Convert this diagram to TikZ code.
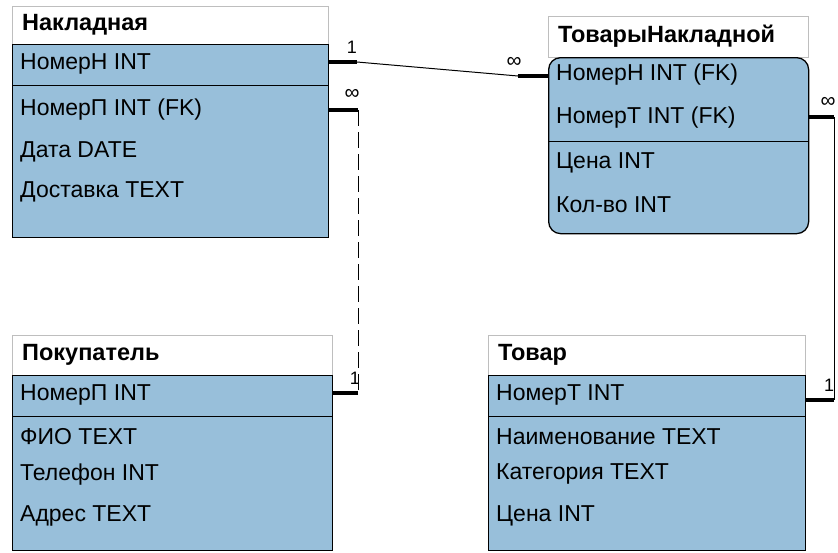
\documentclass[tikz,border=0pt]{standalone}
\usepackage{fontspec}
\setmainfont{Liberation Sans}
\definecolor{tblue}{RGB}{152,191,218}
\definecolor{hgray}{RGB}{190,190,190}
\begin{document}
\begin{tikzpicture}[x=1pt,y=-1pt,
  hdr/.style={draw=hgray, fill=white, line width=1pt, anchor=north west, inner sep=0pt},
  band/.style={draw=black, fill=tblue, line width=1.3pt, anchor=north west, inner sep=0pt},
  plain/.style={anchor=north west, inner sep=0pt},
  row/.style={anchor=west, inner sep=0pt, font=\fontsize{23}{23}\selectfont},
  ttl/.style={anchor=west, inner sep=0pt, font=\bfseries\fontsize{23.5}{23.5}\selectfont},
  stub/.style={line width=4pt},
  link/.style={line width=1pt},
  one/.style={inner sep=0pt, font=\fontsize{18}{18}\selectfont},
  many/.style={inner sep=0pt, font=\fontsize{21}{21}\selectfont}]
\useasboundingbox (0,0) rectangle (838,552);

% ---------- Накладная ----------
\node[hdr, minimum width=316pt, minimum height=38pt] (nakH) at (12,6) {};
\node[band, minimum width=316pt, minimum height=41pt] (nakK) at (12,44) {};
\node[band, minimum width=316pt, minimum height=152pt] (nakB) at (12,85) {};
\node[ttl] (nakT) at (22,25) {Накладная};
\node[row] (nak1) at (20,64) {НомерН INT};
\node[row] (nak2) at (20,110) {НомерП INT (FK)};
\node[row] (nak3) at (20,152) {Дата DATE};
\node[row] (nak4) at (20,192) {Доставка TEXT};

% ---------- ТоварыНакладной ----------
\node[hdr, minimum width=260pt, minimum height=41pt] (tnH) at (548,16) {};
\node[band, rounded corners=12pt, minimum width=260pt, minimum height=176pt] (tnB) at (548,57) {};
\node[plain, minimum width=260pt, minimum height=84pt] (tnK) at (548,57) {};
\draw[line width=1.3pt] (tnK.south west) -- (tnK.south east);
\node[ttl] (tnT) at (558,36) {ТоварыНакладной};
\node[row] (tn1) at (556,75) {НомерН INT (FK)};
\node[row] (tn2) at (556,118) {НомерТ INT (FK)};
\node[row] (tn3) at (556,163) {Цена INT};
\node[row] (tn4) at (556,205) {Кол-во INT};

% ---------- Покупатель ----------
\node[hdr, minimum width=320pt, minimum height=40pt] (pokH) at (12,335) {};
\node[band, minimum width=320pt, minimum height=41pt] (pokK) at (12,375) {};
\node[band, minimum width=320pt, minimum height=134pt] (pokB) at (12,416) {};
\node[ttl] (pokT) at (22,355) {Покупатель};
\node[row] (pok1) at (20,395) {НомерП INT};
\node[row] (pok2) at (20,437) {ФИО TEXT};
\node[row] (pok3) at (20,475) {Телефон INT};
\node[row] (pok4) at (20,516) {Адрес TEXT};

% ---------- Товар ----------
\node[hdr, minimum width=317pt, minimum height=40pt] (tovH) at (488,335) {};
\node[band, minimum width=317pt, minimum height=41pt] (tovK) at (488,375) {};
\node[band, minimum width=317pt, minimum height=134pt] (tovB) at (488,416) {};
\node[ttl] (tovT) at (498,355) {Товар};
\node[row] (tov1) at (496,395) {НомерТ INT};
\node[row] (tov2) at (496,437) {Наименование TEXT};
\node[row] (tov3) at (496,474) {Категория TEXT};
\node[row] (tov4) at (496,516) {Цена INT};

% ---------- connectors ----------
\coordinate (c1a) at (357,62);
\coordinate (c1b) at (518,76);
\draw[stub] (nakK.east |- c1a) -- (c1a);
\draw[link] (c1a) -- (c1b);
\draw[stub] (c1b) -- (tnK.west |- c1b);
\node[one] (l1a) at (352,47) {1};
\node[many] (l1b) at (514,62) {∞};

\coordinate (c2a) at (358,110);
\coordinate (c2b) at (358,393);
\draw[stub] (nakB.east |- c2a) -- (c2a);
\draw[link, dash pattern=on 16pt off 6pt] (c2a) -- (c2b);
\draw[stub] (c2b) -- (pokK.east |- c2b);
\node[many] (l2a) at (352,94) {∞};
\node[one] (l2b) at (355,378) {1};

\coordinate (c3a) at (834,117);
\coordinate (c3b) at (834,400);
\draw[stub] (tnK.east |- c3a) -- (c3a);
\draw[link] (c3a) -- (c3b);
\draw[stub] (c3b) -- (tovK.east |- c3b);
\node[many] (l3a) at (828,102) {∞};
\node[one] (l3b) at (829,385) {1};
\end{tikzpicture}
\end{document}
